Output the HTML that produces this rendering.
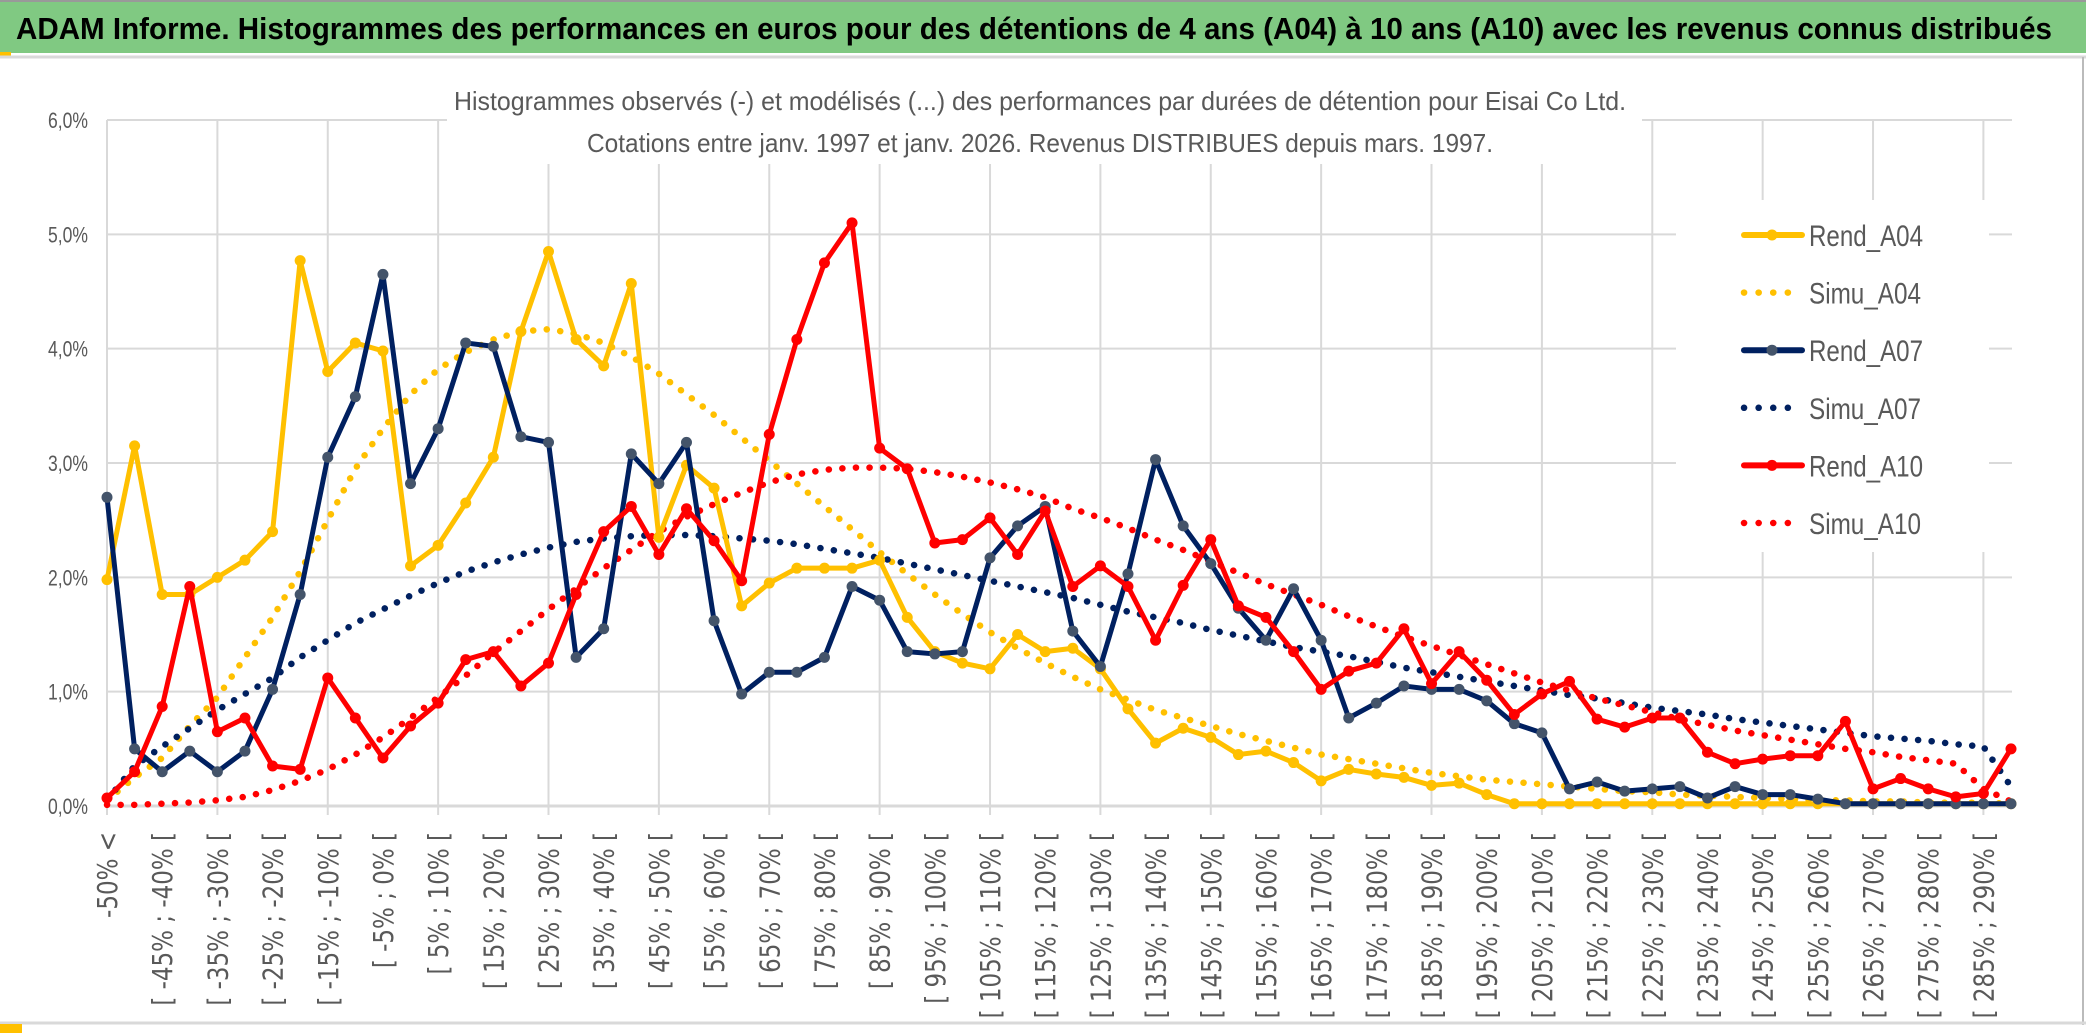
<!DOCTYPE html>
<html><head><meta charset="utf-8"><style>
html,body{margin:0;padding:0;background:#fff;}
svg{display:block;}
</style></head><body>
<svg id="chart" width="2086" height="1033" xmlns="http://www.w3.org/2000/svg" font-family="'Liberation Sans', sans-serif">
<rect x="0" y="0" width="2086" height="1033" fill="#fff"/>
<rect x="0" y="2" width="2086" height="51" fill="#80c982"/>
<line x1="0" y1="1" x2="2086" y2="1" stroke="#999" stroke-width="2"/>
<text x="16" y="39" font-size="31" font-weight="bold" fill="#000" textLength="2036" lengthAdjust="spacingAndGlyphs">ADAM Informe. Histogrammes des performances en euros pour des détentions de 4 ans (A04) à 10 ans (A10) avec les revenus connus distribués</text>
<rect x="0" y="52" width="11" height="4" fill="#ffc000"/>
<line x1="0" y1="57" x2="2086" y2="57" stroke="#d9d9d9" stroke-width="3"/>
<line x1="2083" y1="57" x2="2083" y2="1025" stroke="#bbb" stroke-width="2"/>
<line x1="0" y1="1023" x2="2086" y2="1023" stroke="#d9d9d9" stroke-width="3"/>
<rect x="0" y="1024" width="22" height="9" fill="#ffc000"/>
<g id="grid"></g>
<g id="axes"></g>
<rect x="447" y="62" width="1195" height="102" fill="#fff"/>
<text x="1040" y="110" font-size="26" fill="#595959" text-anchor="middle" textLength="1172" lengthAdjust="spacingAndGlyphs">Histogrammes observés (-) et modélisés (...) des performances par durées de détention pour Eisai Co Ltd.</text>
<text x="1040" y="152" font-size="26" fill="#595959" text-anchor="middle" textLength="906" lengthAdjust="spacingAndGlyphs">Cotations entre janv. 1997 et janv. 2026. Revenus DISTRIBUES depuis mars. 1997.</text>
<g id="series"></g>
<rect x="1676" y="200" width="313" height="352" fill="#fff"/>
<g id="legend"></g>
</svg>
<script>
const categories = (function(){const c=["-50% <"];for(let i=1;i<70;i++){const a=-55+5*i;c.push("[ "+a+"% ; "+(a+5)+"% [");}return c;})();
const yTicks = [0,1,2,3,4,5,6];
const yTickLabels = ["0,0%","1,0%","2,0%","3,0%","4,0%","5,0%","6,0%"];
const rendA04 = [1.98,3.15,1.85,1.85,2.0,2.15,2.4,4.77,3.8,4.05,3.98,2.1,2.28,2.65,3.05,4.15,4.85,4.08,3.85,4.57,2.35,2.98,2.78,1.75,1.95,2.08,2.08,2.08,2.15,1.65,1.35,1.25,1.2,1.5,1.35,1.38,1.2,0.85,0.55,0.68,0.6,0.45,0.48,0.38,0.22,0.32,0.28,0.25,0.18,0.2,0.1,0.02,0.02,0.02,0.02,0.02,0.02,0.02,0.02,0.02,0.02,0.02,0.02,0.02,0.02,0.02,0.02,0.02,0.02,0.02];
const simuA04 = [0.05,0.25,0.42,0.7,0.95,1.3,1.65,2.05,2.5,2.95,3.3,3.6,3.82,3.97,4.08,4.15,4.17,4.13,4.05,3.93,3.78,3.6,3.42,3.22,3.02,2.82,2.62,2.42,2.22,2.03,1.85,1.68,1.52,1.38,1.25,1.13,1.02,0.93,0.84,0.77,0.7,0.63,0.57,0.51,0.45,0.41,0.37,0.33,0.29,0.26,0.23,0.21,0.19,0.17,0.15,0.13,0.12,0.1,0.09,0.08,0.07,0.06,0.05,0.05,0.04,0.04,0.03,0.03,0.03,0.02];
const rendA07 = [2.7,0.5,0.3,0.48,0.3,0.48,1.02,1.85,3.05,3.58,4.65,2.82,3.3,4.05,4.02,3.23,3.18,1.3,1.55,3.08,2.82,3.18,1.62,0.98,1.17,1.17,1.3,1.92,1.8,1.35,1.33,1.35,2.17,2.45,2.62,1.53,1.22,2.03,3.03,2.45,2.12,1.73,1.45,1.9,1.45,0.77,0.9,1.05,1.02,1.02,0.92,0.72,0.64,0.15,0.21,0.13,0.15,0.17,0.07,0.17,0.1,0.1,0.06,0.02,0.02,0.02,0.02,0.02,0.02,0.02];
const simuA07 = [0.05,0.35,0.52,0.68,0.84,0.98,1.12,1.3,1.45,1.6,1.72,1.84,1.95,2.05,2.13,2.2,2.26,2.31,2.34,2.36,2.37,2.37,2.36,2.34,2.32,2.29,2.25,2.21,2.17,2.12,2.07,2.02,1.97,1.92,1.87,1.82,1.76,1.7,1.65,1.6,1.54,1.49,1.44,1.39,1.35,1.31,1.26,1.21,1.17,1.13,1.09,1.05,1.01,0.97,0.94,0.9,0.86,0.83,0.8,0.76,0.73,0.7,0.67,0.64,0.61,0.59,0.57,0.54,0.52,0.17];
const rendA10 = [0.07,0.3,0.87,1.92,0.65,0.77,0.35,0.32,1.12,0.77,0.42,0.7,0.9,1.28,1.35,1.05,1.25,1.85,2.4,2.62,2.2,2.6,2.32,1.97,3.25,4.08,4.75,5.1,3.13,2.95,2.3,2.33,2.52,2.2,2.58,1.92,2.1,1.92,1.45,1.93,2.33,1.75,1.65,1.35,1.02,1.18,1.25,1.55,1.07,1.35,1.1,0.8,0.98,1.09,0.76,0.69,0.77,0.77,0.47,0.37,0.41,0.44,0.44,0.74,0.15,0.24,0.15,0.08,0.11,0.5];
const simuA10 = [0.01,0.01,0.02,0.03,0.05,0.08,0.14,0.22,0.32,0.45,0.6,0.77,0.95,1.14,1.34,1.53,1.72,1.9,2.08,2.24,2.4,2.53,2.64,2.74,2.83,2.9,2.94,2.96,2.96,2.95,2.92,2.88,2.83,2.77,2.7,2.6,2.52,2.43,2.33,2.24,2.14,2.04,1.94,1.85,1.76,1.66,1.57,1.48,1.4,1.32,1.24,1.16,1.08,1.01,0.94,0.88,0.82,0.76,0.71,0.66,0.62,0.58,0.54,0.5,0.47,0.43,0.4,0.37,0.15,0.04];
const seriesNames = ["Rend_A04","Simu_A04","Rend_A07","Simu_A07","Rend_A10","Simu_A10"];

const NS="http://www.w3.org/2000/svg";
const X0=107, X1=2011, Y0=806, YTOP=120;
function xPos(i){return X0+(X1-X0)*i/(categories.length-1);}
function yPos(v){return Y0-(Y0-YTOP)*v/6;}
function mk(tag,attrs,parent){const e=document.createElementNS(NS,tag);for(const k in attrs)e.setAttribute(k,attrs[k]);parent.appendChild(e);return e;}

const grid=document.getElementById('grid');
yTicks.forEach((t,k)=>{
  const l=mk('line',{x1:X0,x2:2012,y1:yPos(t),y2:yPos(t),stroke:'#d9d9d9','stroke-width':t===0?3:2},grid);
  
  
  const tx=mk('text',{x:88,y:yPos(t)+8,'font-size':22,fill:'#595959','text-anchor':'end',textLength:40,lengthAdjust:'spacingAndGlyphs'},grid);
  tx.textContent=yTickLabels[k];
  
  
});
categories.forEach((c,i)=>{
  if(i%4===0){
    const l=mk('line',{x1:xPos(i),x2:xPos(i),y1:YTOP,y2:815,stroke:'#d9d9d9','stroke-width':2},grid);
    
    
  }
  if(i%2===0){
    const tx=mk('text',{transform:'translate('+(xPos(i)+10)+',832) scale(1.2,1) rotate(-90)','font-family':"'DejaVu Sans', sans-serif",'font-size':23,fill:'#595959','text-anchor':'end'},document.getElementById('axes'));
    tx.textContent=c;
    
    
  }
});

const ser=document.getElementById('series');
function drawLine(vals,color,markerColor,name){
  const g=mk('g',{},ser);
  
  
  const pts=vals.map((v,i)=>xPos(i)+','+yPos(v)).join(' ');
  mk('polyline',{points:pts,fill:'none',stroke:color,'stroke-width':5,'stroke-linejoin':'round'},g);
  vals.forEach((v,i)=>{
    const c=mk('circle',{cx:xPos(i),cy:yPos(v),r:5.5,fill:markerColor},g);
    
    
  });
}
function drawDotted(vals,color,name){
  const pts=vals.map((v,i)=>xPos(i)+','+yPos(v)).join(' ');
  const p=mk('polyline',{points:pts,fill:'none',stroke:color,'stroke-width':6.5,'stroke-linecap':'round','stroke-dasharray':'0.1 13.5'},ser);
  
  
}
drawDotted(simuA04,'#ffc000','simu-a04-line');
drawDotted(simuA07,'#002060','simu-a07-line');
drawDotted(simuA10,'#ff0000','simu-a10-line');
drawLine(rendA04,'#ffc000','#ffc000','rend-a04-line');
drawLine(rendA07,'#002060','#44546a','rend-a07-line');
drawLine(rendA10,'#ff0000','#ff0000','rend-a10-line');

const leg=document.getElementById('legend');
const legColors=['#ffc000','#ffc000','#002060','#002060','#ff0000','#ff0000'];
const legMarker=['#ffc000','#ffc000','#44546a','#002060','#ff0000','#ff0000'];
seriesNames.forEach((n,k)=>{
  const y=235+k*57.6;
  const g=mk('g',{},leg);
  
  
  if(k%2===0){
    mk('line',{x1:1744,x2:1802,y1:y,y2:y,stroke:legColors[k],'stroke-width':6,'stroke-linecap':'round'},g);
    mk('circle',{cx:1772,cy:y,r:5.5,fill:legMarker[k]},g);
  } else {
    mk('line',{x1:1744,x2:1802,y1:y,y2:y,stroke:legColors[k],'stroke-width':6.5,'stroke-linecap':'round','stroke-dasharray':'0.1 14.5'},g);
  }
  const t=mk('text',{x:1809,y:y+11,'font-size':30,fill:'#595959',textLength:n.indexOf('Rend')===0?114:112,lengthAdjust:'spacingAndGlyphs'},g);
  t.textContent=n;
});
</script>
</body></html>
